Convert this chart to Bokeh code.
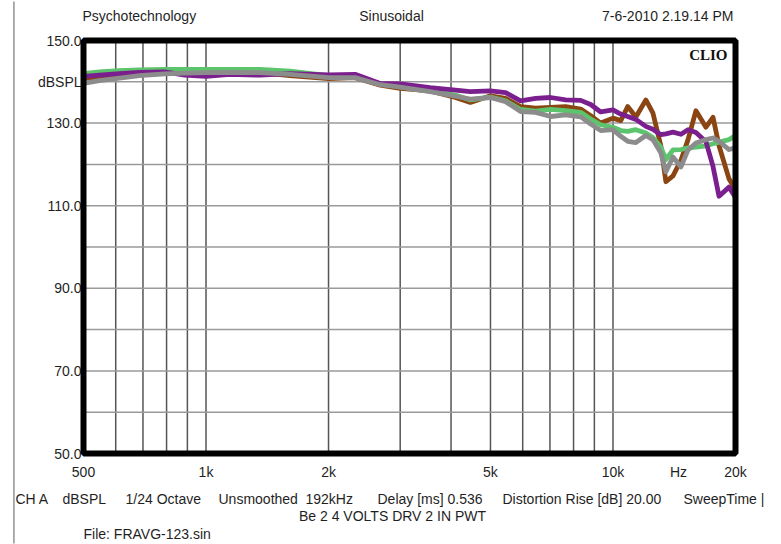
import math
from bokeh.plotting import figure
from bokeh.models import Range1d, BoxAnnotation
from bokeh.core.properties import value
from bokeh.embed import file_html
from bokeh.resources import INLINE

# ---- data ----
freq_hz = [500, 547, 613, 687, 792, 887, 1000, 1144, 1357, 1608, 2000, 2325, 2680,
           3000, 3556, 4100, 4463, 5000, 5445, 5928, 6455, 7026, 7650, 8330, 8815,
           9330, 10000, 10450, 10870, 11380, 12045, 12530, 13110, 13490, 14040,
           14690, 15290, 15990, 16920, 17610, 18220, 19280, 20000]

green_db = [142.0, 142.4, 142.7, 142.9, 143.0, 143.0, 143.0, 143.0, 143.0, 142.6, 141.5,
            141.2, 139.5, 138.8, 137.7, 136.8, 135.6, 136.3, 135.4, 133.3, 132.9, 133.3,
            133.0, 132.6, 131.0, 129.6, 129.0, 128.2, 128.0, 128.4, 127.6, 126.5, 124.2,
            121.2, 123.5, 123.6, 124.0, 124.2, 124.5, 125.0, 125.4, 126.0, 127.0]

purple_db = [141.3, 141.6, 142.0, 142.3, 142.4, 141.6, 141.3, 141.8, 141.6, 142.0, 141.7,
             141.8, 139.6, 139.5, 138.6, 138.0, 137.6, 137.8, 137.4, 135.4, 136.0, 136.2,
             135.6, 135.5, 134.5, 132.7, 133.2, 132.2, 131.6, 130.9, 129.2, 128.5, 127.2,
             127.4, 127.8, 127.3, 128.4, 127.7, 125.5, 119.5, 112.3, 114.5, 112.0]

brown_db = [140.8, 141.2, 141.6, 142.0, 142.2, 142.2, 142.3, 142.4, 142.2, 141.5, 140.8,
            141.0, 139.2, 138.4, 137.8, 136.2, 135.0, 136.6, 136.0, 134.0, 133.6, 133.8,
            134.0, 133.4, 131.8, 130.0, 131.2, 130.6, 134.0, 131.5, 135.6, 132.5, 124.5,
            115.8, 117.2, 121.0, 126.0, 133.0, 129.0, 131.4, 124.5, 116.5, 114.0]

gray_db = [139.6, 140.3, 140.9, 141.5, 141.9, 142.1, 142.2, 142.3, 142.2, 141.8, 141.0,
           141.0, 139.3, 138.7, 137.6, 136.5, 135.8, 136.2, 135.2, 132.8, 132.6, 131.6,
           132.0, 131.5, 129.8, 128.2, 128.4, 126.8, 125.6, 125.3, 127.0, 126.0, 122.8,
           118.2, 121.8, 119.4, 123.5, 125.2, 126.0, 126.4, 125.6, 123.6, 124.0]

x_ticks = [500, 1000, 2000, 5000, 10000, 20000]
x_tick_labels = ["500", "1k", "2k", "5k", "10k", "20k"]
x_grid = [600, 700, 800, 900, 1000, 2000, 3000, 4000, 5000, 6000, 7000, 8000, 9000, 10000]
y_ticks = [150, 140, 130, 110, 90, 70, 50]
y_tick_labels = ["150.0", "dBSPL", "130.0", "110.0", "90.0", "70.0", "50.0"]
y_grid = [60, 70, 80, 90, 100, 110, 120, 130, 140]

F_MIN, F_MAX = 500, 20000
DB_MIN, DB_MAX = 50, 150

# ---- layout (pixels in the 781x544 canvas) ----
W, H = 781, 544
FL, FR, FT, FB = 83, 735, 40, 453   # plot box edges
PPD = (FR - FL) / math.log10(F_MAX / F_MIN)      # px per decade
PPDB = (FB - FT) / (DB_MAX - DB_MIN)             # px per dB


def fx(px):
    return 10 ** (math.log10(F_MIN) + (px - FL) / PPD)


def fy(py):
    return DB_MAX - (py - FT) / PPDB


FONT = "Liberation Sans"
TXT = "#1f1f1f"

p = figure(width=W, height=H, x_axis_type="log",
           x_range=Range1d(fx(0), fx(W)), y_range=Range1d(fy(H), fy(0)),
           output_backend="svg", toolbar_location=None,
           x_axis_location=None, y_axis_location=None,
           min_border=0, min_border_left=0, min_border_right=0,
           min_border_top=0, min_border_bottom=0)
p.grid.visible = False
p.outline_line_color = None
p.background_fill_color = "white"
p.border_fill_color = "white"

# scan edge line at the left of the page
p.quad(left=[fx(12.6)], right=[fx(14.2)], bottom=[fy(H - 1)], top=[fy(1)],
       fill_color="#9a9a9a", line_color=None)

# grid lines inside the plot box
p.segment(x0=x_grid, y0=[DB_MIN] * len(x_grid), x1=x_grid, y1=[DB_MAX] * len(x_grid),
          line_color="#555555", line_width=1.5)
p.segment(x0=[F_MIN] * len(y_grid), y0=y_grid, x1=[F_MAX] * len(y_grid), y1=y_grid,
          line_color="#9a9a9a", line_width=1.5)

# curves
lw = 4.8
p.line(freq_hz, brown_db, line_color="#8b4513", line_width=lw, line_join="round")
p.line(freq_hz, green_db, line_color="#5cc46c", line_width=lw, line_join="round")
p.line(freq_hz, purple_db, line_color="#7c1f8e", line_width=lw, line_join="round")
p.line(freq_hz, gray_db, line_color="#8c8c8c", line_width=lw, line_join="round")

# heavy black box
p.add_layout(BoxAnnotation(left=F_MIN, right=F_MAX, bottom=DB_MIN, top=DB_MAX,
                           fill_alpha=0, line_color="black", line_alpha=1, line_width=6))


def txt(xs, ys, texts, align="left", size="14px", font=FONT, style="normal", color=TXT):
    p.text(x=xs, y=ys, text=texts, text_align=align, text_baseline="middle",
           text_font=value(font), text_font_size=size, text_font_style=style,
           text_color=color)


# axis tick labels
txt(x_ticks, [fy(471)] * len(x_ticks), x_tick_labels, align="center")
txt([fx(678)], [fy(471)], ["Hz"], align="center")
txt([fx(81)] * len(y_ticks), y_ticks, y_tick_labels, align="right")

# header
txt([fx(82)], [fy(15)], ["Psychotechnology"])
txt([fx(391)], [fy(15)], ["Sinusoidal"], align="center")
txt([fx(733)], [fy(15)], ["7-6-2010 2.19.14 PM"], align="right")
txt([fx(727)], [fy(54)], ["CLIO"], align="right", size="15px",
    font="Liberation Serif", style="bold", color="#111111")

# footer
footer_text = ["CH A", "dBSPL", "1/24 Octave", "Unsmoothed", "192kHz", "Delay [ms] 0.536",
               "Distortion Rise [dB] 20.00", "SweepTime |"]
footer_px = [15, 62, 125, 218, 305, 377, 502, 683]
txt([fx(v) for v in footer_px], [fy(498)] * len(footer_px), footer_text)
txt([fx(392)], [fy(515)], ["Be 2 4 VOLTS DRV 2 IN PWT"], align="center")
txt([fx(83)], [fy(533)], ["File: FRAVG-123.sin"])

open("out.html", "w").write(file_html(p, INLINE))
